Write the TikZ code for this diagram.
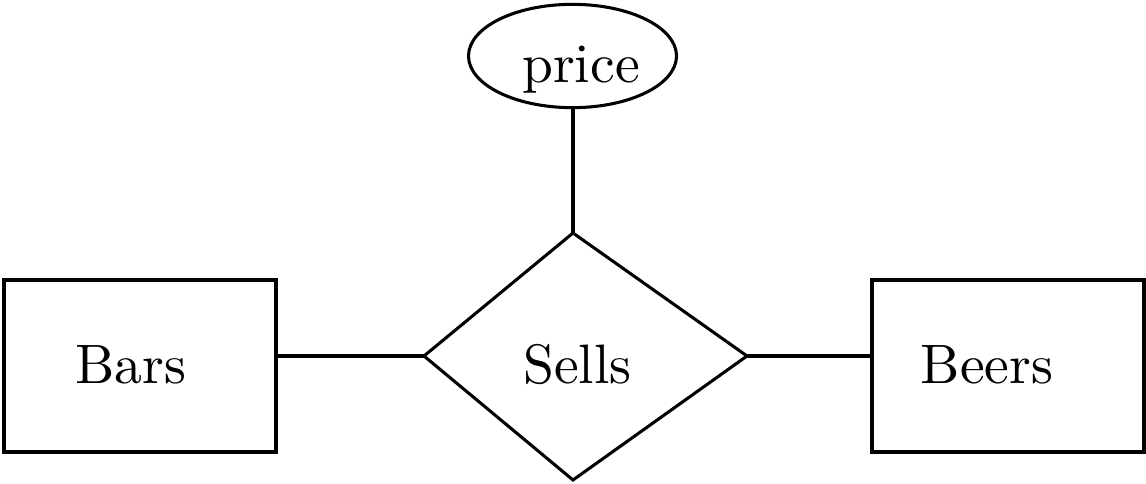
\documentclass[tikz,border=0pt]{standalone}
\usetikzlibrary{shapes.geometric}
\begin{document}
\begin{tikzpicture}[x=0.18pt,y=-0.18pt,line width=0.55pt,
  entity/.style={draw,rectangle,minimum width=48.96pt,minimum height=30.96pt,inner sep=0pt},
  attrib/.style={draw,ellipse,minimum width=37.44pt,minimum height=18.6pt,inner sep=0pt},
  lbl/.style={anchor=base,inner sep=0pt}]
\useasboundingbox (0,0) rectangle (1146,484);
% entities
\node[entity] (bars) at (140,366) {};
\node[entity] (beers) at (1008,366) {};
\node[lbl] (barstext) at (130.5,383) {Bars};
\node[lbl] (beerstext) at (987,383) {Beers};
% attribute
\node[attrib] (price) at (572.5,56) {};
\node[lbl] (pricetext) at (581,83) {price};
% relationship diamond
\coordinate (dt) at (573,233);
\coordinate (dl) at (424,356);
\coordinate (dr) at (747,356);
\coordinate (db) at (573,480);
\draw[line join=miter] (dt) -- (dr) -- (db) -- (dl) -- cycle;
\node[lbl] (sells) at (577.5,383) {Sells};
% connectors
\coordinate (pb) at (573,107);
\coordinate (barsr) at (275,356);
\coordinate (beersl) at (873,356);
\draw (pb) -- (dt);
\draw (barsr) -- (dl);
\draw (dr) -- (beersl);
\end{tikzpicture}
\end{document}
